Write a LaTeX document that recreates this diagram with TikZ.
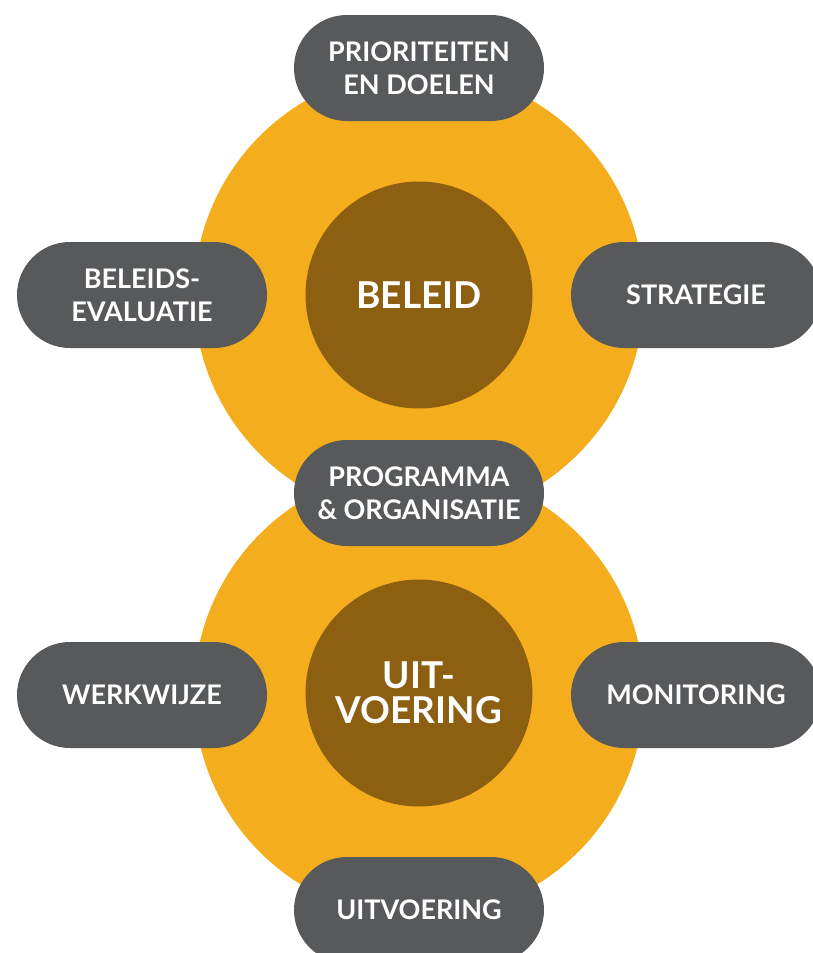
\documentclass[tikz,border=0pt]{standalone}
\usepackage{fontspec}
\setmainfont{Lato}
\usetikzlibrary{shapes.misc}
\definecolor{ringorange}{HTML}{F4AD1D}
\definecolor{kernbrown}{HTML}{8C6010}
\definecolor{pillgray}{HTML}{58595B}
\begin{document}
\begin{tikzpicture}[x=1pt,y=-1pt,
  ring/.style={circle,fill=ringorange,minimum size=450pt,inner sep=0pt},
  kern/.style={circle,fill=kernbrown,minimum size=227pt,inner sep=0pt,text=white,
    align=center,font=\bfseries\fontsize{37}{35}\selectfont},
  pill/.style={rounded rectangle,fill=pillgray,minimum width=250pt,minimum height=106pt,
    inner sep=0pt,text=white,align=center,font=\bfseries\fontsize{27}{33}\selectfont}]
\def\xmid{419}
\def\ytop{295}
\def\ybot{693}
\useasboundingbox (0,0) rectangle (813,953);
\clip (0,0) rectangle (813,953);

% de twee ringen
\node[ring] (beleidring) at (\xmid,\ytop) {};
\node[ring] (uitvoerring) at (\xmid,\ybot) {};

\node[kern] (beleid) at (\xmid,\ytop) {BELEID};
\node[kern] (uitvoering) at (\xmid,\ybot) {UIT-\\VOERING};

% beleid
\node[pill] (prioriteiten) at (\xmid,68) {PRIORITEITEN\\EN DOELEN};
\node[pill] (evaluatie) at (142,\ytop) {BELEIDS-\\EVALUATIE};
\node[pill] (strategie) at (696,\ytop) {STRATEGIE};
\node[pill] (programma) at (\xmid,493) {PROGRAMMA\\\& ORGANISATIE};

% uitvoering
\node[pill] (werkwijze) at (142,695) {WERKWIJZE};
\node[pill] (monitoring) at (696,695) {MONITORING};
\node[pill] (uitvoer) at (\xmid,910) {UITVOERING};
\end{tikzpicture}
\end{document}
